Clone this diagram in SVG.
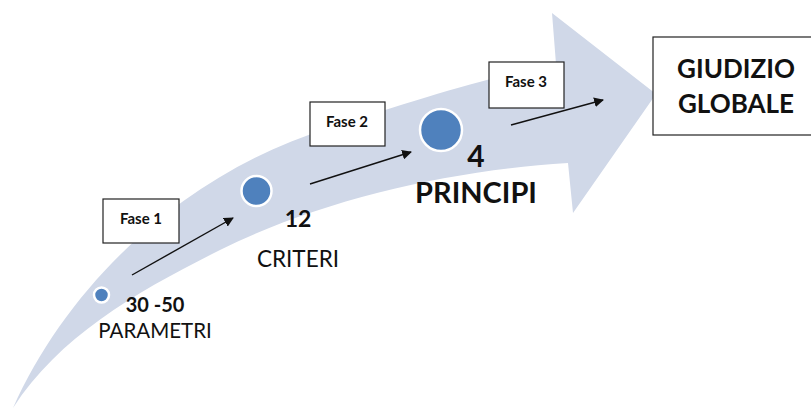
<svg xmlns="http://www.w3.org/2000/svg" width="811" height="410" viewBox="0 0 811 410">
<style>
.box{fill:#fff;stroke:#222;stroke-width:1.2}
.dot{fill:#4f81bd;stroke:#fff;stroke-width:2.5}
.t{font-family:Lato,"Liberation Sans",sans-serif;fill:#111}
.b{font-weight:bold}
.fase{font-family:Lato,"Liberation Sans",sans-serif;font-weight:bold;font-size:15px;fill:#111;text-anchor:middle}
.conn{stroke:#111;stroke-width:1.4;fill:none;marker-end:url(#ah)}
</style>
<defs>
<marker id="ah" viewBox="0 0 10 10" refX="9" refY="5" markerWidth="7" markerHeight="7" markerUnits="strokeWidth" orient="auto">
<path d="M0,0 L10,5 L0,10 Z" fill="#111"/>
</marker>
</defs>
<rect width="811" height="410" fill="#fff"/>
<g id="bigArrow">
<path d="M13,408 C70,280 190,170 330,128 C420,98 500,74 556,64 L552,13 L656,94 L573,213 L568,163 C450,170 320,200 220,250 C140,290 60,335 13,408 Z" fill="#d0d8e8"/>
</g>
<g id="giudizio">
<rect class="box" x="653" y="37" width="170" height="98"/>
<text class="t b" x="736" y="78" font-size="26" text-anchor="middle">GIUDIZIO</text>
<text class="t b" x="736" y="113" font-size="26" text-anchor="middle">GLOBALE</text>
</g>
<g id="connectors">
<line class="conn" x1="132" y1="275" x2="233" y2="218"/>
<line class="conn" x1="310" y1="184" x2="411" y2="152"/>
<line class="conn" x1="511" y1="125" x2="603" y2="100"/>
</g>
<g id="parametri">
<circle class="dot" cx="101.5" cy="295" r="7.5"/>
<text class="t b" x="155" y="312" font-size="20" text-anchor="middle">30 -50</text>
<text class="t" x="155" y="338" font-size="20.5" text-anchor="middle">PARAMETRI</text>
</g>
<g id="criteri">
<circle class="dot" cx="256.5" cy="191" r="15"/>
<text class="t b" x="298" y="227" font-size="23" text-anchor="middle">12</text>
<text class="t" x="298" y="267" font-size="22.5" text-anchor="middle">CRITERI</text>
</g>
<g id="principi">
<circle class="dot" cx="441" cy="130" r="21"/>
<text class="t b" x="476" y="167" font-size="30" text-anchor="middle">4</text>
<text class="t b" x="476" y="203" font-size="29" text-anchor="middle">PRINCIPI</text>
</g>
<g id="fase1">
<rect class="box" x="103" y="199" width="76" height="44"/>
<text class="fase" x="141" y="224">Fase 1</text>
</g>
<g id="fase2">
<rect class="box" x="310" y="102" width="75" height="44"/>
<text class="fase" x="347" y="127">Fase 2</text>
</g>
<g id="fase3">
<rect class="box" x="489" y="62" width="75" height="46"/>
<text class="fase" x="526" y="87">Fase 3</text>
</g>
</svg>
